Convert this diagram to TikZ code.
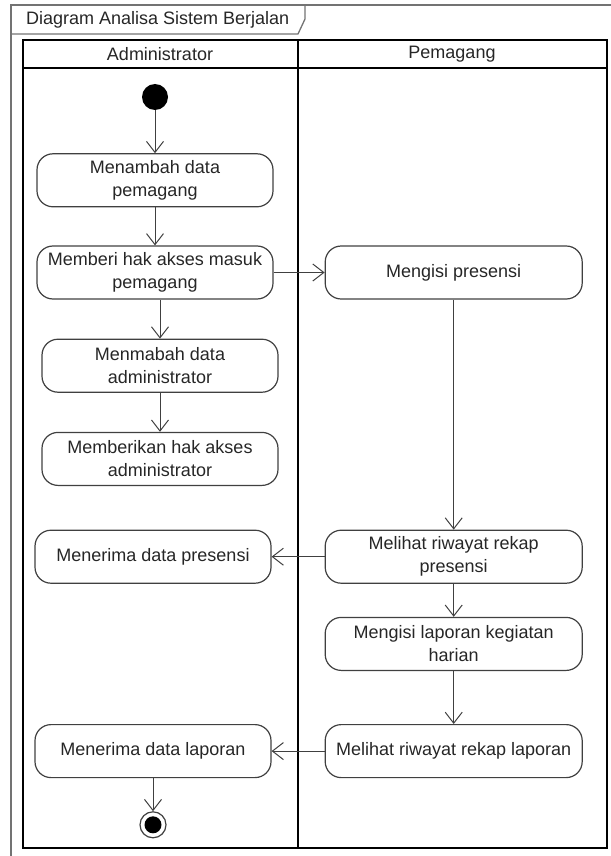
\documentclass[tikz,border=0pt]{standalone}
\usepackage{fontspec}
\setmainfont{Liberation Sans}
\usetikzlibrary{arrows.meta,positioning}

\begin{document}
\begin{tikzpicture}[
    x=1pt, y=-1pt,
    act/.style={draw=black!75, line width=1.2pt, rounded corners=16pt, minimum width=236pt,
                minimum height=53pt, align=center, font=\fontsize{18}{23}\selectfont, text=black!85},
    wide/.style={act, minimum width=257pt},
    flow/.style={-{Straight Barb[length=11pt,width=17pt]}, line width=1pt, draw=black!75},
    lane/.style={line width=2.4pt, draw=black},
    frame/.style={line width=1.3pt, draw=black!55},
    head/.style={font=\fontsize{18}{22}\selectfont, text=black!85, inner sep=0pt},
]
\useasboundingbox (0,0) rectangle (610,856);

% Frame
\draw[frame] (11,860) -- (11,5) -- (614,5);
\draw[frame] (11,34) -- (298,34) -- (305,19) -- (305,5);
\node[head, anchor=west] (title) at (26,20) {Diagram Analisa Sistem Berjalan};

% Swimlanes
\draw[lane] (23,40) rectangle (607,848);
\draw[lane] (23,68) -- (607,68);
\draw[lane] (298,40) -- (298,848);
\node[head] (adminhead) at (160,54) {Administrator};
\node[head] (pemaganghead) at (452,54) {Pemagang};

% Administrator
\node[circle, fill=black, minimum size=26pt, inner sep=0pt] (start) at (155,97) {};
\node[act, below=43pt of start] (tambah) {Menambah data\\pemagang};
\node[act, below=38pt of tambah] (akses) {Memberi hak akses masuk\\pemagang};
\node[act, below=39pt of akses, xshift=5pt] (admin) {Menmabah data\\administrator};
\node[act, below=39pt of admin] (aksesadmin) {Memberikan hak akses\\administrator};

% Pemagang
\node[wide, right=51pt of akses] (presensi) {Mengisi presensi};
\node[wide, below=230pt of presensi] (rekappresensi) {Melihat riwayat rekap\\presensi};
\node[wide, below=33pt of rekappresensi] (laporan) {Mengisi laporan kegiatan\\harian};
\node[wide, below=53pt of laporan] (rekaplaporan) {Melihat riwayat rekap laporan};

% Back to Administrator
\node[act, left=53pt of rekappresensi] (terimapresensi) {Menerima data presensi};
\node[act, left=53pt of rekaplaporan] (terimalaporan) {Menerima data laporan};
\node[circle, draw=black!75, line width=1.2pt, minimum size=26pt, inner sep=0pt,
      below=33pt of terimalaporan] (end) {};
\node[circle, fill=black, minimum size=17pt, inner sep=0pt] (endcore) at (end) {};

% Arrows
\draw[flow] (start) -- (tambah);
\draw[flow] (tambah) -- (akses);
\draw[flow] (akses.south -| admin) -- (admin);
\draw[flow] (admin) -- (aksesadmin);
\draw[flow] (akses) -- (presensi);
\draw[flow] (presensi) -- (rekappresensi);
\draw[flow] (rekappresensi) -- (terimapresensi);
\draw[flow] (rekappresensi) -- (laporan);
\draw[flow] (laporan) -- (rekaplaporan);
\draw[flow] (rekaplaporan) -- (terimalaporan);
\draw[flow] (terimalaporan) -- (end);
\end{tikzpicture}
\end{document}
